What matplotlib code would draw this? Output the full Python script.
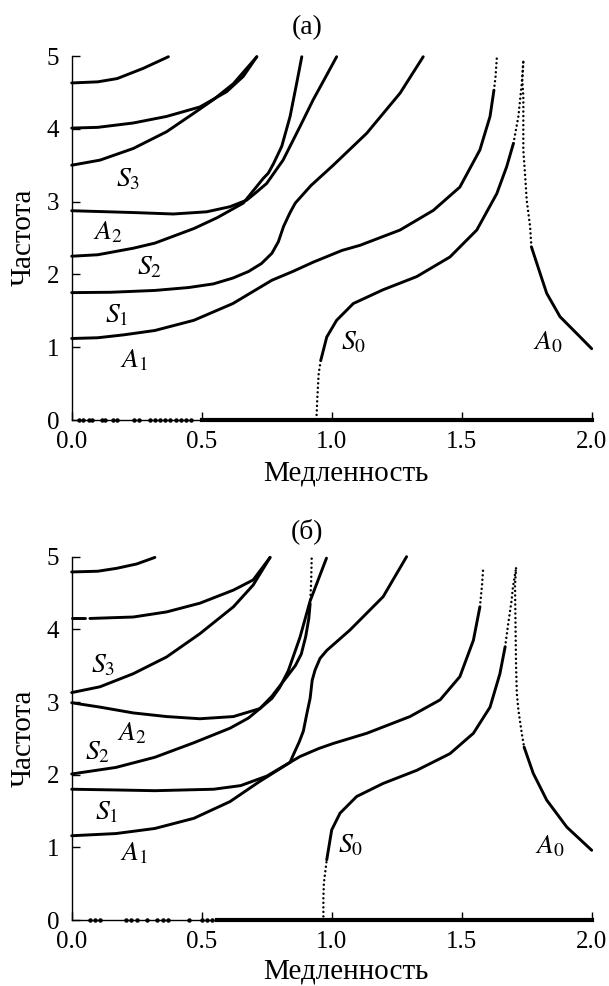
import matplotlib
matplotlib.use('Agg')
import matplotlib.pyplot as plt

plt.rcParams['font.family'] = 'Liberation Serif'
plt.rcParams['mathtext.fontset'] = 'stix'
SERIF = 'Liberation Serif'

# ---------- панель (а) ----------
# каждая ветвь: (x, y, стиль), стиль '-' сплошная, ':' точки
a_curves = [
    ([0, 0.1, 0.175, 0.275, 0.372], [4.63, 4.645, 4.69, 4.83, 4.99], '-'),
    ([0, 0.1, 0.237, 0.365, 0.493, 0.596, 0.66, 0.712], [4.01, 4.02, 4.08, 4.17, 4.3, 4.51, 4.72, 4.99], '-'),
    ([0, 0.109, 0.237, 0.365, 0.468, 0.545, 0.622, 0.712], [3.5, 3.57, 3.73, 3.96, 4.21, 4.4, 4.62, 4.99], '-'),
    # A2
    ([0, 0.237, 0.391, 0.519, 0.609, 0.673, 0.704, 0.75, 0.813, 0.878, 0.929, 0.981, 1.019],
     [2.875, 2.85, 2.83, 2.86, 2.93, 3.02, 3.11, 3.25, 3.57, 4.03, 4.4, 4.74, 4.99], '-'),
    # S2
    ([0, 0.1, 0.237, 0.32, 0.47, 0.56, 0.62, 0.66, 0.737, 0.756, 0.776, 0.808, 0.84, 0.865, 0.885],
     [2.25, 2.27, 2.36, 2.43, 2.63, 2.78, 2.9, 2.98, 3.32, 3.39, 3.52, 3.76, 4.17, 4.62, 4.99], '-'),
    # S1
    ([0, 0.15, 0.32, 0.45, 0.545, 0.62, 0.68, 0.73, 0.77, 0.795, 0.815, 0.84, 0.86, 0.92, 1.006, 1.135, 1.263, 1.352],
     [1.75, 1.755, 1.78, 1.82, 1.87, 1.95, 2.04, 2.15, 2.29, 2.45, 2.66, 2.85, 2.98, 3.22, 3.5, 3.94, 4.49, 4.99], '-'),
    # A1
    ([0, 0.1, 0.2, 0.32, 0.47, 0.62, 0.77, 0.85, 0.93, 1.04, 1.109, 1.263, 1.391, 1.493, 1.57, 1.609, 1.624],
     [1.12, 1.13, 1.17, 1.23, 1.37, 1.6, 1.92, 2.04, 2.17, 2.33, 2.4, 2.61, 2.88, 3.2, 3.71, 4.17, 4.53], '-'),
    ([1.624, 1.63, 1.635], [4.53, 4.71, 4.97], ':'),
    # S0
    ([0.942, 0.945, 0.95, 0.958], [0.07, 0.32, 0.64, 0.82], ':'),
    ([0.958, 0.981, 1.019, 1.083, 1.198, 1.327, 1.455, 1.558, 1.635, 1.673, 1.699],
     [0.82, 1.14, 1.37, 1.6, 1.79, 1.97, 2.24, 2.61, 3.11, 3.48, 3.8], '-'),
    ([1.699, 1.718, 1.731, 1.737], [3.8, 4.17, 4.62, 4.92], ':'),
    # A0
    ([1.737, 1.733, 1.737, 1.737, 1.745, 1.75, 1.763, 1.768],
     [4.92, 4.67, 4.44, 3.71, 3.3, 3.02, 2.66, 2.38], ':'),
    ([1.768, 1.801, 1.827, 1.878, 1.942, 2.0], [2.38, 2.02, 1.74, 1.42, 1.19, 0.98], '-'),
]
a_zero_dots = [0.03, 0.045, 0.065, 0.08, 0.115, 0.13, 0.16, 0.175, 0.24, 0.26,
               0.3, 0.32, 0.34, 0.36, 0.38, 0.4, 0.42, 0.44, 0.46]
a_zero_line = [0.5, 2.0]
a_labels = [('S_3', 0.217, 3.3), ('A_2', 0.139, 2.57), ('S_2', 0.3, 2.1), ('S_1', 0.172, 1.44),
            ('A_1', 0.239, 0.82), ('S_0', 1.084, 1.06), ('A_0', 1.831, 1.06)]

# ---------- панель (б) ----------
b_curves = [
    ([0, 0.1, 0.173, 0.25, 0.32], [4.79, 4.8, 4.84, 4.9, 4.99], '-'),
    ([0, 0.05], [4.15, 4.15], '-'),
    ([0.07, 0.237, 0.365, 0.493, 0.622, 0.698, 0.763], [4.15, 4.17, 4.24, 4.36, 4.54, 4.68, 4.99], '-'),
    ([0, 0.109, 0.237, 0.365, 0.493, 0.622, 0.698, 0.763], [3.13, 3.21, 3.39, 3.62, 3.94, 4.31, 4.61, 4.99], '-'),
    # A2
    ([0, 0.109, 0.237, 0.365, 0.493, 0.622, 0.724, 0.77, 0.826, 0.86, 0.883, 0.9, 0.912, 0.917],
     [2.99, 2.93, 2.85, 2.8, 2.77, 2.8, 2.91, 3.08, 3.34, 3.5, 3.66, 3.9, 4.15, 4.35], '-'),
    ([0.917, 0.921, 0.923], [4.35, 4.65, 4.98], ':'),
    # S2
    ([0, 0.17, 0.32, 0.47, 0.609, 0.68, 0.724, 0.77, 0.8, 0.833, 0.878, 0.917, 0.95, 0.98],
     [2.01, 2.1, 2.24, 2.44, 2.64, 2.78, 2.91, 3.05, 3.2, 3.43, 3.89, 4.39, 4.7, 4.98], '-'),
    # S1
    ([0, 0.17, 0.32, 0.546, 0.65, 0.75, 0.84, 0.852, 0.875, 0.891, 0.905, 0.917, 0.925, 0.936,
      0.955, 0.981, 1.07, 1.198, 1.288],
     [1.8, 1.79, 1.78, 1.8, 1.85, 1.98, 2.17, 2.27, 2.45, 2.6, 2.85, 3.05, 3.3, 3.44,
      3.6, 3.71, 3.99, 4.45, 5.0], '-'),
    # A1
    ([0, 0.17, 0.32, 0.47, 0.609, 0.72, 0.84, 0.878, 0.95, 1.006, 1.135, 1.301, 1.417, 1.493, 1.545, 1.57],
     [1.16, 1.19, 1.26, 1.4, 1.63, 1.9, 2.17, 2.25, 2.36, 2.43, 2.57, 2.8, 3.03, 3.35, 3.85, 4.31], '-'),
    ([1.57, 1.578, 1.583], [4.31, 4.6, 4.86], ':'),
    # S0
    ([0.968, 0.968, 0.97, 0.981], [0.05, 0.3, 0.51, 0.83], ':'),
    ([0.981, 1.0, 1.032, 1.096, 1.198, 1.327, 1.455, 1.545, 1.609, 1.647, 1.667],
     [0.83, 1.24, 1.47, 1.7, 1.88, 2.06, 2.29, 2.57, 2.93, 3.39, 3.76], '-'),
    ([1.667, 1.679, 1.692, 1.697, 1.709], [3.76, 4.08, 4.4, 4.58, 4.84], ':'),
    # A0
    ([1.709, 1.705, 1.709, 1.712, 1.718, 1.731, 1.74], [4.84, 4.6, 3.51, 3.12, 2.89, 2.57, 2.38], ':'),
    ([1.74, 1.775, 1.827, 1.904, 2.0], [2.38, 2.02, 1.65, 1.28, 0.96], '-'),
]
b_zero_dots = [0.07, 0.09, 0.11, 0.21, 0.23, 0.25, 0.29, 0.33, 0.35, 0.37, 0.45, 0.5, 0.52, 0.54]
b_zero_line = [0.56, 2.0]
b_labels = [('S_3', 0.12, 3.5), ('A_2', 0.232, 2.56), ('S_2', 0.1, 2.31), ('S_1', 0.135, 1.48),
            ('A_1', 0.239, 0.91), ('S_0', 1.073, 1.02), ('A_0', 1.839, 1.01)]

xticks = [0.0, 0.5, 1.0, 1.5, 2.0]
yticks = [0, 1, 2, 3, 4, 5]


def draw_panel(ax, curves, zero_dots, zero_line, labels):
    for x, y, st in curves:
        if st == '-':
            ax.plot(x, y, color='black', lw=2.1, solid_capstyle='round', clip_on=False)
        else:
            ax.plot(x, y, color='black', lw=1.8, linestyle=(0, (0.01, 1.8)),
                    dash_capstyle='round', clip_on=False)
    ax.plot(zero_dots, [0] * len(zero_dots), 'o', color='black', ms=2.2, clip_on=False)
    ax.plot(zero_line, [0, 0], color='black', lw=3.0, clip_on=False)
    for t, x, y in labels:
        ax.text(x, y, '$' + t + '$', fontsize=20, ha='center', va='center')
    ax.set_xlim(0, 2)
    ax.set_ylim(0, 5)
    ax.set_xticks(xticks)
    ax.set_xticklabels([f'{v:.1f}' for v in xticks], family=SERIF)
    ax.set_yticks(yticks)
    ax.set_yticklabels([str(v) for v in yticks], family=SERIF)
    ax.spines['top'].set_visible(False)
    ax.spines['right'].set_visible(False)
    ax.spines['left'].set_linewidth(1.0)
    ax.spines['bottom'].set_linewidth(1.0)
    ax.tick_params(direction='in', length=6, width=1, labelsize=18)
    ax.tick_params(axis='y', pad=9)
    ax.tick_params(axis='x', pad=8)


fig = plt.figure(figsize=(6.09, 9.86), dpi=100)
ax1 = fig.add_axes([0.1177, 0.574, 0.8539, 0.3692])
ax2 = fig.add_axes([0.1177, 0.0669, 0.8539, 0.3685])

draw_panel(ax1, a_curves, a_zero_dots, a_zero_line, a_labels)
draw_panel(ax2, b_curves, b_zero_dots, b_zero_line, b_labels)

fig.text(0.504, 1 - 28 / 986, '(а)', fontsize=20, ha='center', va='center', family=SERIF)
fig.text(0.504, 1 - 531 / 986, '(б)', fontsize=20, ha='center', va='center', family=SERIF)
fig.text(0.568, 1 - 473 / 986, 'Медленность', fontsize=21, ha='center', va='center', family=SERIF)
fig.text(0.568, 1 - 971 / 986, 'Медленность', fontsize=21, ha='center', va='center', family=SERIF)
fig.text(24 / 609, 1 - 237 / 986, 'Частота', fontsize=21, ha='center', va='center', rotation=90, family=SERIF)
fig.text(24 / 609, 1 - 738 / 986, 'Частота', fontsize=21, ha='center', va='center', rotation=90, family=SERIF)

fig.savefig('out.png', dpi=100)
